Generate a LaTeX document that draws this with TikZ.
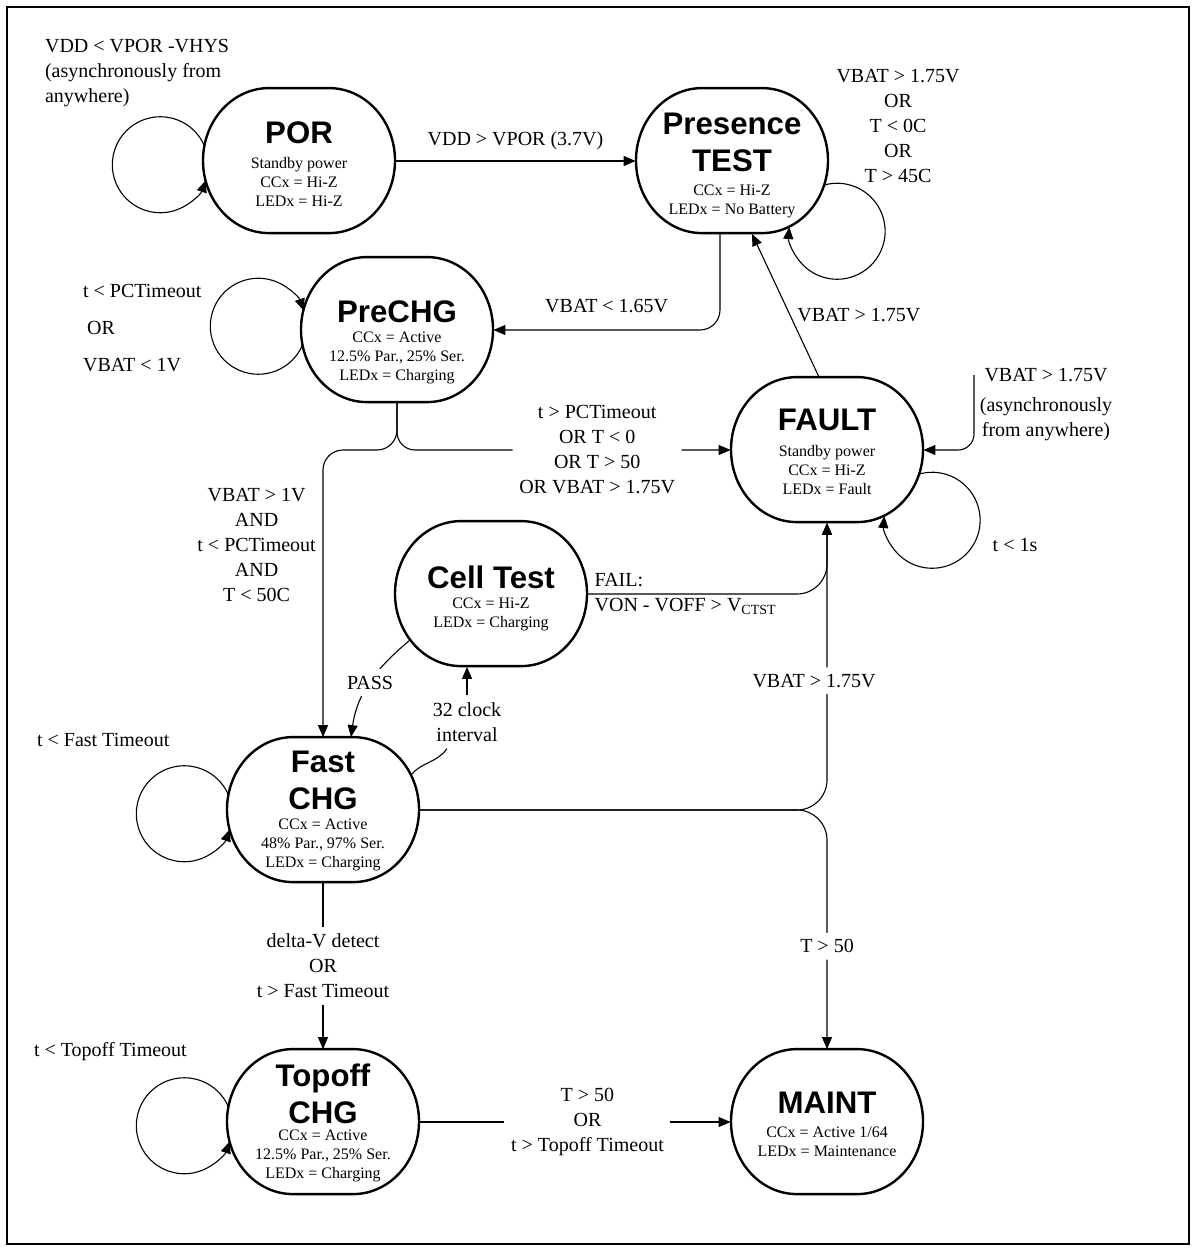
\documentclass[tikz,border=0pt]{standalone}
\usepackage{fontspec}
\setmainfont{Liberation Serif}
\setsansfont{Liberation Sans}
\usetikzlibrary{arrows.meta, calc}

\begin{document}
\begin{tikzpicture}[x=0.5pt, y=0.5pt,
    >={Triangle[length=6pt,width=5pt]},
    state/.style={minimum width=96pt, minimum height=72.5pt, inner sep=0pt},
    outline/.style={line width=1.2pt},
    ttl/.style={font=\sffamily\bfseries\fontsize{15.6}{18.5}\selectfont, align=center, inner sep=0pt},
    info/.style={font=\fontsize{8}{9.5}\selectfont, align=center, inner sep=0pt},
    lbl/.style={font=\fontsize{10}{12.5}\selectfont, align=center},
    arr/.style={->, line width=0.55pt}]
\useasboundingbox (0,0) rectangle (1196,-1251);
\draw[line width=1.3pt] (7,-7) rectangle (1189,-1244);

\node[state] (por) at (299,-161) {};
\node[state] (pres) at (732,-161) {};
\node[state] (prechg) at (397,-330) {};
\node[state] (fault) at (827,-450) {};
\node[state] (cell) at (491,-594) {};
\node[state] (fast) at (323,-810) {};
\node[state] (topoff) at (323,-1122) {};
\node[state] (maint) at (827,-1122) {};

\foreach \n in {por,pres,prechg,fault,cell,fast,topoff,maint}
  \draw[outline] ([xshift=-15pt]\n.north) -- ([xshift=15pt]\n.north)
    arc[start angle=90, end angle=-90, x radius=33pt, y radius=36.25pt] -- ++(-60,0)
    arc[start angle=270, end angle=90, x radius=33pt, y radius=36.25pt] -- cycle;

\node[ttl] (por-t) at ($(por.center)+(0,28)$) {POR};
\node[info] (por-i) at ($(por.center)+(0,-21)$) {Standby power\\CCx = Hi-Z\\LEDx = Hi-Z};
\node[ttl] (pres-t) at ($(pres.center)+(0,19)$) {Presence\\TEST};
\node[info] (pres-i) at ($(pres.center)+(0,-40)$) {CCx = Hi-Z\\LEDx = No Battery};
\node[ttl] (prechg-t) at ($(prechg.center)+(0,18)$) {PreCHG};
\node[info] (prechg-i) at ($(prechg.center)+(0,-28)$) {CCx = Active\\12.5\% Par., 25\% Ser.\\LEDx = Charging};
\node[ttl] (fault-t) at ($(fault.center)+(0,30)$) {FAULT};
\node[info] (fault-i) at ($(fault.center)+(0,-20)$) {Standby power\\CCx = Hi-Z\\LEDx = Fault};
\node[ttl] (cell-t) at ($(cell.center)+(0,17)$) {Cell Test};
\node[info] (cell-i) at ($(cell.center)+(0,-20)$) {CCx = Hi-Z\\LEDx = Charging};
\node[ttl] (fast-t) at ($(fast.center)+(0,30)$) {Fast\\CHG};
\node[info] (fast-i) at ($(fast.center)+(0,-35)$) {CCx = Active\\48\% Par., 97\% Ser.\\LEDx = Charging};
\node[ttl] (topoff-t) at ($(topoff.center)+(0,28)$) {Topoff\\CHG};
\node[info] (topoff-i) at ($(topoff.center)+(0,-34)$) {CCx = Active\\12.5\% Par., 25\% Ser.\\LEDx = Charging};
\node[ttl] (maint-t) at ($(maint.center)+(0,19)$) {MAINT};
\node[info] (maint-i) at ($(maint.center)+(0,-20)$) {CCx = Active 1/64\\LEDx = Maintenance};

\node[lbl, align=left, anchor=west] (l-por) at (38,-73) {VDD < VPOR -VHYS\\(asynchronously from\\anywhere)};
\node[lbl] (l-pres) at (898,-126) {VBAT > 1.75V\\OR\\T < 0C\\OR\\T > 45C};
\node[lbl, align=left, anchor=west] (l-pre) at (76,-328) {t < PCTimeout\\[6pt]\hspace*{2pt}OR\\[6pt]VBAT < 1V};
\node[lbl, anchor=west] (l-fastl) at (30,-740) {t < Fast Timeout};
\node[lbl, anchor=west] (l-topl) at (27,-1052) {t < Topoff Timeout};
\node[lbl] (l-1s) at (1015,-545) {t < 1s};
\node[lbl] (l-async) at (1046,-405) {VBAT > 1.75V\\[2.5pt](asynchronously\\from anywhere)};
\node[lbl] (l-clk) at (467,-722) {32 clock\\interval};
\coordinate (async) at (974,-375);

\draw[arr] ($(por.center)+(-94.5,15)$) arc[start angle=23, end angle=341, radius=24pt];
\draw[arr] ($(prechg.center)+(-94.5,-15)$) arc[start angle=-23, end angle=-341, radius=24pt];
\draw[arr] ($(fast.center)+(-94.5,15)$) arc[start angle=23, end angle=341, radius=24pt];
\draw[arr] ($(topoff.center)+(-94.5,15)$) arc[start angle=23, end angle=341, radius=24pt];
\draw[arr] ($(pres.center)+(92.3,-24)$) arc[start angle=105.5, end angle=-185, radius=24pt];
\draw[arr] ($(fault.center)+(92.3,-24)$) arc[start angle=105.5, end angle=-185, radius=24pt];

\draw[arr] (por.east) -- node[lbl, above=2pt] (l-vpor) {VDD > VPOR (3.7V)} (pres.west);
\draw[arr, rounded corners=10pt] ([xshift=-6pt]pres.south) |- node[lbl, above=5pt, pos=0.75] (l-165) {VBAT < 1.65V} (prechg.east);
\draw[arr] ([xshift=-4pt]fault.north) -- node[lbl, right, pos=0.43] (l-f175) {VBAT > 1.75V} ([xshift=10pt]pres.south);
\draw[arr, rounded corners=10pt] (prechg.south) |- (fast.north |- fault.west) -- node[lbl, left, pos=0.33] (l-1v) {VBAT > 1V\\AND\\t < PCTimeout\\AND\\T < 50C} (fast.north);
\draw[arr, rounded corners=9pt] (prechg.south) |- node[lbl, fill=white, pos=0.8] (l-pct) {t > PCTimeout\\OR T < 0\\OR T > 50\\OR VBAT > 1.75V} (fault.west);
\draw[arr, rounded corners=8pt] (async) |- (fault.east);
\draw[arr, rounded corners=15pt] (cell.east) -| node[lbl, anchor=west, align=left, pos=0] (l-fail) {FAIL:\\VON - VOFF > V\textsubscript{CTST}} (fault.south);
\draw[arr, rounded corners=15pt] (fast.east) -| node[lbl, fill=white, pos=0.725, xshift=-6.5pt] (l-fast175) {VBAT > 1.75V} (fault.south);
\draw[arr, rounded corners=15pt] (fast.east) -| node[lbl, fill=white, pos=0.785] (l-t50) {T > 50} (maint.north);
\draw[arr] ($(cell.center)+(-81,-46)$) to[out=220, in=82] node[lbl, fill=white] (l-pass) {PASS} ([xshift=14pt]fast.north);
\draw[line width=0.55pt] ($(fast.center)+(88,35)$) to[out=50, in=235] ([xshift=-10pt]l-clk.south);
\draw[arr] (l-clk.north) -- (l-clk.north |- cell.south);
\draw[arr] (fast.south) -- node[lbl, fill=white] (l-dv) {delta-V detect\\OR\\t > Fast Timeout} (topoff.north);
\draw[arr] (topoff.east) -- node[lbl, fill=white, pos=0.54] (l-top) {T > 50\\OR\\t > Topoff Timeout} (maint.west);
\end{tikzpicture}
\end{document}
